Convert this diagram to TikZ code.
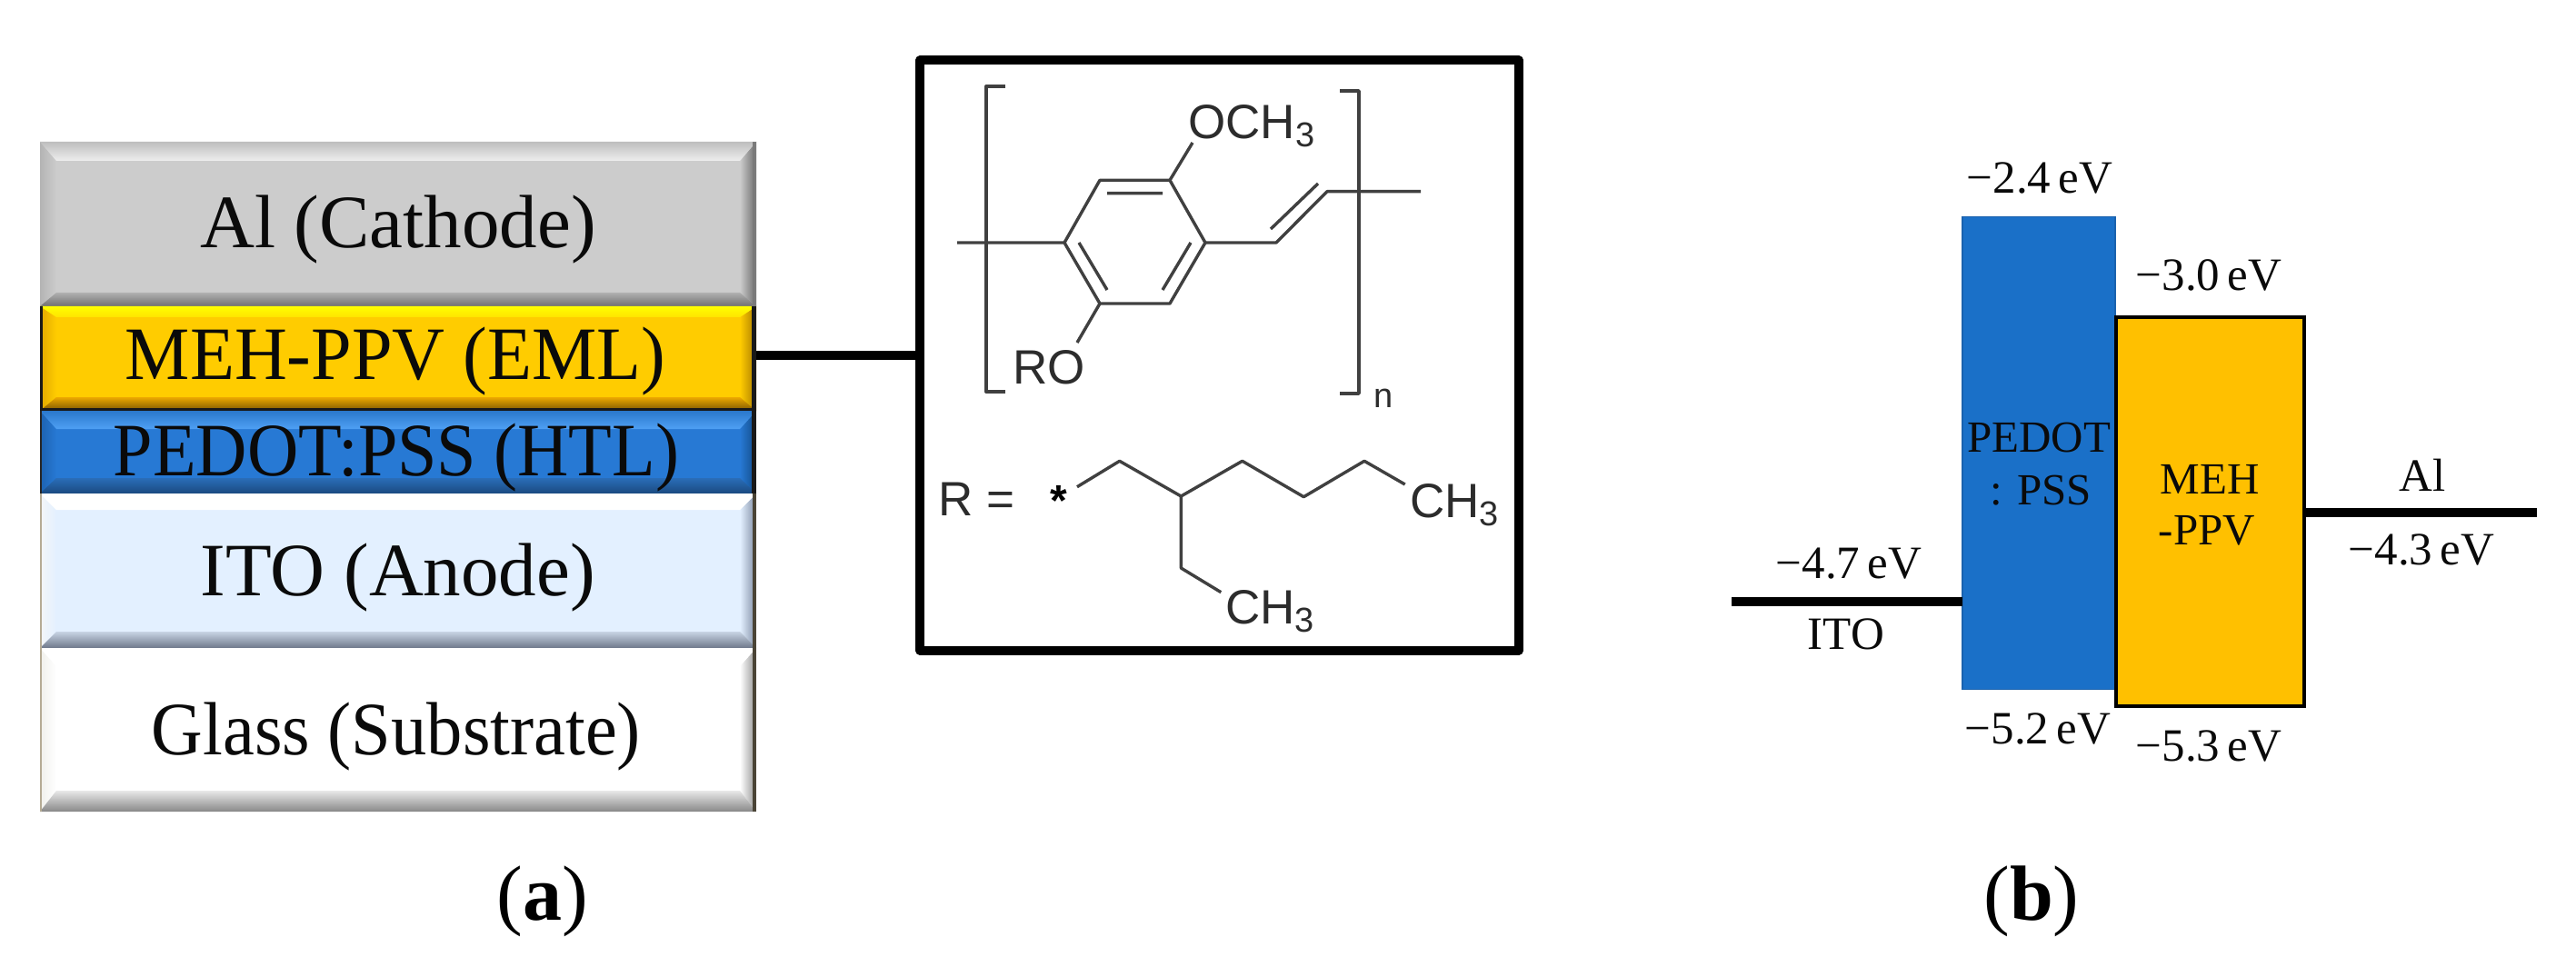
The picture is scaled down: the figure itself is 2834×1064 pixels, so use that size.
\documentclass[tikz,border=0pt]{standalone}
\usepackage{fontspec}
\setmainfont{Liberation Serif}
\newfontfamily\molfont{Liberation Sans}
\usetikzlibrary{calc}
\definecolor{txt}{HTML}{0A0A0A}
\definecolor{bondc}{HTML}{404040}
\definecolor{molt}{HTML}{2C2C2C}
\definecolor{HTLband}{HTML}{1A70C8}
\definecolor{HTLedge}{HTML}{1A62AE}
\definecolor{MEHband}{HTML}{FFC000}
\definecolor{tan}{HTML}{B5AB95}
\definecolor{edgeb}{HTML}{4A4436}
\definecolor{edgec}{HTML}{7A7A7A}
\newcommand{\stxt}[2]{\scalebox{#1}[1]{#2}}
\newcommand{\subthree}{\raisebox{-.17em}{\fontsize{19}{20}\selectfont 3}}
% \layer{name}{x0}{y0}{x1}{y1}{fill} then \layerb{topA}{topB}{botA}{botB}{leftouter}{rightouter}{topdepth}{botdepth}
\newcommand{\layer}[6]{%
  \definecolor{lfill}{HTML}{#6}%
  \node[layerbox,fill=lfill,minimum width={(#4-#2)*0.5pt},minimum height={(#5-#3)*0.5pt}] (#1) at ({(#2+#4)/2},{(#3+#5)/2}) {};
  \def\lxa{#2}\def\lya{#3}\def\lxb{#4}\def\lyb{#5}\layerb}
\newcommand{\layerb}[8]{%
  \definecolor{lta}{HTML}{#1}\definecolor{ltb}{HTML}{#2}%
  \definecolor{lba}{HTML}{#3}\definecolor{lbb}{HTML}{#4}%
  \definecolor{ll}{HTML}{#5}\definecolor{lr}{HTML}{#6}%
  \pgfmathsetmacro\ita{\lya+#7}\pgfmathsetmacro\ibt{\lyb-#8}%
  \pgfmathsetmacro\ila{\lxa+18}\pgfmathsetmacro\irb{\lxb-18}%
  \shade[left color=ll,right color=lfill] (\lxa,\lya)--(\ila,\ita)--(\ila,\ibt)--(\lxa,\lyb)--cycle;
  \shade[left color=lfill,right color=lr] (\lxb,\lya)--(\irb,\ita)--(\irb,\ibt)--(\lxb,\lyb)--cycle;
  \shade[top color=lta,bottom color=ltb] (\lxa,\lya)--(\lxb,\lya)--(\irb,\ita)--(\ila,\ita)--cycle;
  \shade[top color=lbb,bottom color=lba] (\ila,\ibt)--(\irb,\ibt)--(\lxb,\lyb)--(\lxa,\lyb)--cycle;
}
\tikzset{
  layerbox/.style={rectangle,draw=none,inner sep=0pt,outer sep=0pt},
  stacktext/.style={anchor=base,inner sep=0pt,text=txt,font=\fontsize{41.5}{48}\selectfont},
  eng/.style={anchor=base,inner sep=0pt,text=txt,font=\fontsize{25.5}{28}\selectfont},
  inband/.style={anchor=base,inner sep=0pt,text=txt,font=\fontsize{24.5}{28}\selectfont},
  caplabel/.style={anchor=base,inner sep=0pt,text=black,font=\fontsize{43}{50}\selectfont},
  band/.style={rectangle,inner sep=0pt,outer sep=0pt},
  level/.style={line width=5pt,black},
  boxline/.style={line width=5pt,black,line join=round},
  bond/.style={line width=1.7pt,bondc,line join=round},
  mol/.style={anchor=base west,inner sep=0pt,text=molt,font=\molfont\fontsize{26.5}{30}\selectfont},
  molsub/.style={anchor=base west,inner sep=0pt,text=molt,font=\molfont\fontsize{19}{20}\selectfont},
  molstar/.style={anchor=base west,inner sep=0pt,text=black,font=\molfont\bfseries\fontsize{24}{26}\selectfont}
}
\begin{document}
\begin{tikzpicture}[x=0.5pt,y=-0.5pt]
\useasboundingbox (0,0) rectangle (2834,1064);
\fill[white] (0,0) rectangle (2834,1064);
% stack
\layer{al}{44}{156}{832}{337}{CCCCCC}{BEBEBE}{EEEEEE}{707070}{B0B0B0}{B4B4B4}{6A6A6A}{21}{15}
\layer{eml}{44}{337}{832}{452}{FFCC00}{FFFF00}{FFE400}{7A5600}{EDA800}{E0A800}{A87A00}{12}{15}
\layer{htl}{44}{452}{832}{543}{2779D4}{2A78CC}{4FA0F4}{1A4A80}{2A6DB8}{1D62B0}{124A85}{20}{17}
\layer{ito}{44}{543}{832}{713}{E3F0FF}{FFFFFF}{FFFFFF}{6E788A}{C8D4E4}{F4F6F8}{7F8CA3}{18}{18}
\layer{glass}{44}{713}{832}{893}{FFFFFF}{FFFFFF}{FFFFFF}{888888}{E8E8E8}{F0F0EC}{909090}{20}{23}
% outer edges of the layers
\fill[edgec] ([xshift=-2pt]al.north east) rectangle (al.south east);
\fill[black!90] ([xshift=-2.5pt]eml.north east) rectangle (eml.south east);
\fill[black!90] (eml.north west) rectangle ([xshift=1.5pt]eml.south west);
\fill[black!90] ([yshift=1.5pt]eml.south west) rectangle (eml.south east);
\fill[black!90] ([xshift=-2.5pt]htl.north east) rectangle (htl.south east);
\fill[black!85] (htl.north west) rectangle ([xshift=1.2pt]htl.south west);
\fill[edgeb] ([xshift=-2pt]ito.north east) rectangle (ito.south east);
\fill[tan] (ito.north west) rectangle ([xshift=1pt]ito.south west);
\fill[edgeb] ([xshift=-2pt]glass.north east) rectangle (glass.south east);
\fill[tan] (glass.north west) rectangle ([xshift=1pt]glass.south west);
\node[stacktext] (talb) at (438,273) {Al (Cathode)};
\node[stacktext] (temlb) at (435,417) {\stxt{0.965}{MEH-PPV (EML)}};
\node[stacktext] (thtlb) at (436,523) {\stxt{0.94}{PEDOT:PSS (HTL)}};
\node[stacktext] (titob) at (438,655) {ITO (Anode)};
\node[stacktext] (tglb) at (436,830) {\stxt{0.945}{Glass (Substrate)}};
% formula box
\node[rectangle,draw=none,inner sep=0pt,outer sep=0pt,minimum width=329.5pt,minimum height=324.5pt] (box) at (1341.5,391) {};
\draw[boxline] (box.north west) rectangle (box.south east);
\draw[line width=5pt,black] (eml.east |- box.west) -- (box.west);
% structural formula
\draw[bond] (1210,198.3)--(1287,198.3)--(1326,267)--(1287,334)--(1210,334)--(1171,267)--cycle;
\draw[bond] (1218,212.7)--(1279,212.7) (1310,267)--(1279,319) (1187,267)--(1218,319);
\draw[bond] (1287,198.3)--(1312,157) (1210,334)--(1185,377) (1053,267)--(1171,267);
\draw[bond] (1326,267)--(1404,267)--(1460,210.7)--(1563,210.7) (1398,252)--(1450,202);
\draw[bond] (1106,95)--(1085,95)--(1085,431)--(1106,431);
\draw[bond] (1474,100)--(1495,100)--(1495,433)--(1474,433);
\draw[bond] (1185,535.7)--(1231.7,507.3)--(1299.3,546)--(1366.7,507.3)--(1434.3,546.7)--(1501,507.3)--(1545.7,533);
\draw[bond] (1299.3,546)--(1299.3,625)--(1343.3,651.7);
\node[mol] (och) at (1307,152.7) {OCH\subthree};
\node[mol] (ro) at (1114,422.7) {RO};
\node[molsub] (nn) at (1511,448.5) {n};
\node[mol] (req) at (1032,567.7) {R =};
\node[molstar] (st) at (1155,567) {*};
\node[mol] (cha) at (1550.7,569) {CH\subthree};
\node[mol] (chb) at (1348,686) {CH\subthree};
% energy diagram
\node[band,fill=HTLband,draw=HTLedge,line width=0.6pt,minimum width=84pt,minimum height=260pt] (pedot) at (2243,498.5) {};
\node[band,fill=MEHband,draw=black,line width=1.8pt,minimum width=103.7pt,minimum height=214.2pt] (meh) at (2431.5,563) {};
\coordinate (itoL) at (1905,662);
\coordinate (alR) at (2791,564);
\draw[level] (itoL) -- (itoL -| pedot.west);
\draw[level] (meh.east |- alR) -- (alR);
\node[eng] (n24) at (2244,213) {−2.4\,eV};
\node[eng] (n30) at (2430,320) {−3.0\,eV};
\node[eng] (n47) at (2034,636) {−4.7\,eV};
\node[eng] (nito) at (2031,714) {ITO};
\node[inband] (p1) at (2243,497) {PEDOT};
\node[inband] (p2) at (2245,555) {: PSS};
\node[inband] (m1) at (2431,543) {MEH};
\node[inband] (m2) at (2428,599) {-PPV};
\node[eng] (nal) at (2665,540) {Al};
\node[eng] (n43) at (2664,621) {−4.3\,eV};
\node[eng] (n52) at (2242,818) {−5.2\,eV};
\node[eng] (n53) at (2430,837) {−5.3\,eV};
\node[caplabel] (ca) at (597,1012) {(\textbf{a})};
\node[caplabel] (cb) at (2235,1012) {(\textbf{b})};
\end{tikzpicture}
\end{document}
